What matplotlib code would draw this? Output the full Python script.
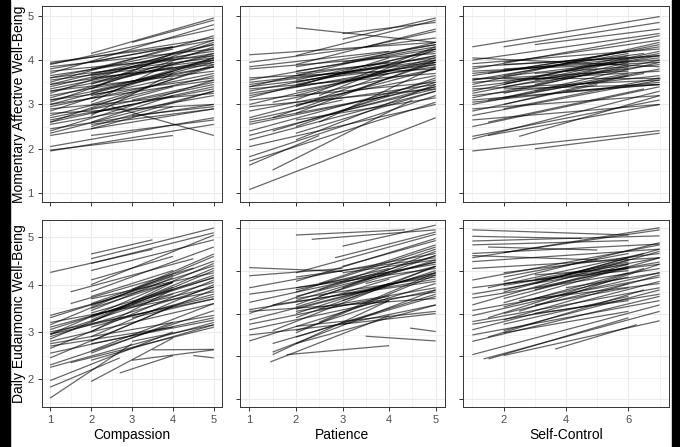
import matplotlib
matplotlib.use("Agg")
import matplotlib.pyplot as plt
from matplotlib.patches import Rectangle
from matplotlib.ticker import MultipleLocator

plt.rcParams['font.family'] = ['Liberation Sans', 'DejaVu Sans']

# person-specific lines: (x_start, x_end, y_start, y_end)
comp_mom = [
    (1, 5, 1.95, 2.55), (1, 4, 1.97, 2.30), (1, 5, 2.05, 2.70), (2, 5, 2.30, 2.65),
    (2.5, 5, 2.95, 2.30), (1, 5, 2.35, 3.30), (1, 5, 2.40, 3.55), (1, 5, 2.55, 3.20),
    (1, 5, 2.60, 3.90), (1, 5, 2.70, 3.45), (1, 5, 2.80, 3.00), (1, 5, 2.85, 4.05),
    (1, 5, 2.95, 3.70), (1, 5, 3.00, 3.95), (1, 5, 3.05, 4.30), (1, 5, 3.10, 3.60),
    (1, 5, 3.15, 4.15), (1, 5, 3.20, 3.85), (1, 5, 3.25, 4.45), (1, 5, 3.30, 3.75),
    (1, 5, 3.35, 4.10), (1, 5, 3.40, 4.25), (1, 5, 3.45, 3.95), (1, 5, 3.50, 4.55),
    (1, 5, 3.55, 4.00), (1, 5, 3.60, 4.35), (1, 5, 3.65, 4.20), (1, 5, 3.70, 4.80),
    (1, 5, 3.75, 4.10), (1, 5, 3.80, 4.45), (1, 5, 3.85, 4.25), (1, 5, 3.92, 4.50),
    (1, 4, 3.95, 4.30), (2, 5, 4.15, 4.95), (3, 5, 4.40, 4.90), (2, 5, 2.50, 3.30),
    (2, 5, 2.55, 2.90), (2, 4, 2.60, 3.20), (2, 4, 2.75, 3.70), (2, 4, 2.90, 3.40),
    (2, 4, 3.05, 3.95), (2, 4, 3.20, 3.60), (2, 4, 3.35, 4.15), (2, 4, 3.50, 3.85),
    (2, 4, 3.65, 4.05), (2, 4, 3.80, 4.25), (2, 4, 3.95, 4.30), (2, 5, 3.00, 3.85),
    (2, 5, 3.25, 4.05), (2, 5, 3.45, 4.40), (2, 5, 3.70, 4.15), (3, 5, 2.75, 2.95),
    (3, 5, 3.10, 3.50), (3, 5, 3.50, 4.00), (1, 5, 2.30, 2.90), (1, 5, 2.45, 3.00),
    (1, 5, 2.65, 3.35), (1, 3, 2.60, 3.00), (1, 5, 2.90, 3.25), (1, 5, 3.90, 4.70),
    (2, 5, 2.80, 3.40), (2, 5, 3.60, 3.90), (2, 4, 2.45, 2.95), (1, 5, 3.30, 4.00),
    (1, 5, 3.00, 3.55), (1, 5, 3.45, 4.35), (1, 5, 3.10, 3.85), (2, 4, 3.30, 3.75),
    (1, 5, 2.75, 3.65), (1, 5, 3.60, 4.05),
]
pat_mom = [
    (1, 5, 1.08, 2.70), (1, 2.5, 1.63, 2.30), (1, 5, 1.72, 3.05), (1, 5, 1.82, 3.20),
    (1.5, 4.5, 1.52, 3.10), (1, 5, 2.05, 3.00), (1, 5, 2.30, 3.40), (1, 5, 2.40, 3.55),
    (1, 4, 2.55, 3.20), (1, 5, 2.70, 3.80), (1, 5, 2.85, 3.65), (1, 5, 3.00, 4.00),
    (1, 5, 3.10, 3.50), (1, 5, 3.15, 4.25), (1, 5, 3.25, 3.85), (1, 5, 3.30, 4.10),
    (1, 5, 3.35, 3.70), (1, 5, 3.40, 4.40), (1, 5, 3.45, 4.00), (1, 5, 3.50, 3.95),
    (1, 5, 3.55, 4.30), (1, 5, 3.60, 3.80), (1, 5, 3.80, 4.15), (1, 5, 3.95, 4.50),
    (1, 5, 4.12, 4.40), (2, 5, 4.73, 4.40), (3, 5, 4.47, 4.95), (2, 5, 4.10, 4.90),
    (2, 5, 3.90, 4.70), (2, 5, 3.10, 4.30), (2, 5, 2.80, 4.00), (2, 5, 2.50, 3.60),
    (2, 5, 2.35, 3.30), (2, 5, 2.20, 3.45), (2, 5, 3.30, 3.90), (2, 5, 3.55, 4.20),
    (2, 5, 3.70, 4.05), (2, 5, 3.00, 3.45), (2, 5, 2.65, 3.15), (2, 5, 3.85, 4.35),
    (2, 4, 2.95, 3.70), (2, 4, 3.20, 3.75), (2, 4, 3.40, 4.05), (2, 4, 3.65, 3.95),
    (1.5, 5, 2.40, 3.50), (1.5, 5, 2.70, 3.95), (1.5, 5, 3.05, 3.80), (2.5, 5, 2.60, 3.85),
    (2.5, 5, 3.20, 4.25), (3, 5, 2.85, 3.35), (3, 5, 3.50, 4.05), (3, 5, 3.95, 4.35),
    (1, 3, 2.65, 3.10), (1, 4, 3.85, 4.20), (1, 5, 2.20, 3.30), (1, 5, 2.60, 3.40),
    (1, 5, 2.95, 3.35), (1, 5, 3.20, 3.95), (3, 5, 4.60, 4.85), (3.5, 5, 4.30, 4.65),
    (2, 5, 3.45, 4.10), (2, 5, 3.75, 4.25), (1, 5, 3.40, 3.90), (2, 4, 3.50, 3.90),
]
self_mom = [
    (1, 7, 1.95, 2.41), (3, 7, 2.00, 2.35), (1, 7, 2.22, 3.30), (1, 7, 2.28, 3.10),
    (1.5, 7, 2.30, 3.00), (2.5, 7, 2.28, 3.20), (1, 7, 2.50, 3.40), (1, 7, 2.75, 3.55),
    (1, 7, 2.90, 3.20), (1, 7, 3.00, 3.80), (1, 7, 3.10, 3.45), (1, 7, 3.15, 4.00),
    (1, 7, 3.20, 3.65), (1, 7, 3.30, 4.20), (1, 7, 3.35, 3.55), (1, 7, 3.40, 3.90),
    (1, 7, 3.45, 4.40), (1, 7, 3.50, 3.75), (1, 7, 3.55, 4.05), (1, 7, 3.60, 3.60),
    (1, 7, 3.65, 4.30), (1, 7, 3.75, 3.95), (1, 7, 3.80, 4.55), (1, 7, 3.85, 4.10),
    (1, 7, 3.92, 4.25), (1, 7, 4.00, 4.60), (1, 7, 4.05, 3.85), (1, 7, 4.30, 4.98),
    (2, 7, 4.30, 4.85), (3, 7, 4.35, 4.70), (2, 6, 3.00, 3.65), (2, 6, 3.25, 3.90),
    (2, 6, 3.45, 4.10), (2, 6, 3.60, 3.75), (2, 6, 3.75, 4.20), (2, 6, 3.90, 4.05),
    (3, 6, 3.30, 3.70), (3, 6, 3.55, 4.00), (3, 6, 3.70, 3.85), (2, 7, 2.90, 3.60),
    (2, 7, 3.15, 3.95), (2, 7, 3.35, 3.45), (2, 7, 3.65, 4.35), (2, 7, 3.80, 4.00),
    (2, 7, 3.95, 4.45), (1.5, 6.5, 2.60, 3.35), (1.5, 6.5, 3.10, 3.70), (1.5, 6.5, 3.70, 4.15),
    (1, 5, 2.85, 3.45), (1, 5, 3.25, 3.80), (1, 6, 3.55, 4.15), (4, 7, 3.30, 3.45),
    (4, 7, 3.75, 4.10), (1, 7, 2.65, 3.00), (1, 7, 3.05, 3.50), (2, 6, 3.40, 3.80),
    (1, 7, 3.70, 4.10), (2, 7, 3.50, 4.15), (3, 6, 3.45, 3.95),
]
comp_day = [
    (1, 3, 1.60, 2.75), (1, 2.7, 1.83, 2.45), (1, 4, 1.97, 3.00), (2, 4, 1.95, 2.87),
    (2.7, 4, 2.13, 2.50), (1, 3.5, 4.26, 4.75), (2, 3.5, 4.65, 4.95), (2, 5, 4.55, 5.20),
    (2, 5, 4.45, 5.10), (2, 5, 4.30, 4.95), (2, 4, 4.10, 4.60), (3.5, 5, 2.62, 2.63),
    (4.5, 5, 2.50, 2.45), (3, 5, 2.40, 2.62), (1, 5, 2.25, 3.20), (1, 5, 2.30, 3.45),
    (1, 5, 2.45, 3.90), (1, 5, 2.55, 3.30), (1, 5, 2.65, 4.10), (1, 5, 2.80, 3.60),
    (1, 5, 2.85, 4.30), (1, 5, 2.90, 3.95), (1, 5, 2.95, 4.45), (1, 5, 3.00, 3.70),
    (1, 5, 3.05, 4.15), (1, 5, 3.15, 4.60), (1, 5, 3.20, 3.85), (1, 5, 3.30, 4.40),
    (1, 4, 3.35, 4.05), (1, 4, 2.70, 3.10), (1, 4, 2.95, 3.80), (2, 5, 2.40, 3.15),
    (2, 5, 2.60, 3.60), (2, 5, 2.75, 3.25), (2, 5, 2.90, 4.00), (2, 5, 3.10, 3.80),
    (2, 5, 3.25, 4.35), (2, 5, 3.40, 4.15), (2, 5, 3.55, 4.50), (2, 5, 3.70, 4.25),
    (2, 5, 3.85, 4.80), (2, 5, 4.00, 5.05), (2, 4, 2.55, 3.20), (2, 4, 2.80, 3.55),
    (2, 4, 3.00, 3.90), (2, 4, 3.20, 4.05), (2, 4, 3.45, 4.15), (2, 4, 3.60, 4.20),
    (2, 4, 3.75, 4.30), (3, 5, 2.80, 3.15), (3, 5, 3.30, 3.70), (3, 5, 3.60, 4.20),
    (3, 5, 3.90, 4.65), (1.5, 5, 2.35, 3.10), (1.5, 4.5, 3.60, 4.35), (1.5, 4.5, 3.85, 4.55),
    (1, 5, 2.75, 3.35), (1, 5, 3.10, 4.05), (2, 4, 3.30, 3.95), (2, 4, 3.50, 4.05),
    (2, 5, 3.35, 3.95), (1, 5, 2.95, 3.75),
]
pat_day = [
    (1.45, 4, 1.87, 2.95), (1.5, 4, 2.04, 3.30), (1.8, 4, 2.04, 2.25), (1.5, 5, 2.10, 3.55),
    (1.5, 5, 2.30, 3.40), (1, 5, 2.36, 3.70), (1, 5, 2.62, 3.55), (1, 5, 2.85, 3.95),
    (1, 5, 3.09, 3.80), (1, 5, 3.26, 4.20), (1, 3, 4.07, 3.98), (1, 3, 3.88, 4.05),
    (1, 5, 3.45, 4.05), (1, 5, 3.60, 4.40), (1, 5, 3.05, 3.35), (1, 4, 2.75, 3.40),
    (2, 4.34, 4.83, 4.95), (2.34, 5, 4.73, 4.95), (3, 5, 4.57, 5.06), (2.84, 5, 4.30, 4.90),
    (4.45, 5, 2.66, 2.58), (3.5, 5, 2.47, 2.36), (2, 5, 2.30, 3.20), (2, 5, 2.55, 3.90),
    (2, 5, 2.70, 3.05), (2, 5, 2.90, 4.10), (2, 5, 3.05, 3.60), (2, 5, 3.20, 4.35),
    (2, 5, 3.35, 3.85), (2, 5, 3.50, 4.55), (2, 5, 3.60, 4.15), (2, 5, 3.75, 4.75),
    (2, 5, 3.85, 4.30), (2, 5, 3.95, 4.85), (2, 4, 2.60, 3.30), (2, 4, 3.00, 3.70),
    (2, 4, 3.30, 3.95), (2, 4, 3.55, 4.05), (2.5, 5, 2.80, 3.95), (2.5, 5, 3.10, 3.50),
    (2.5, 5, 3.40, 4.25), (2.5, 5, 3.70, 4.60), (3, 5, 2.75, 3.20), (3, 5, 3.30, 4.00),
    (3, 5, 3.60, 4.45), (3, 5, 3.95, 4.25), (3, 5, 4.10, 4.70), (1, 5, 3.00, 4.50),
    (1, 5, 2.50, 3.00), (1.5, 5, 2.60, 4.10), (1.5, 5, 3.20, 3.75), (2, 5, 2.45, 3.45),
    (2, 5, 3.10, 3.95), (3.5, 5, 3.70, 4.10), (2, 5, 3.40, 4.20), (2.5, 5, 3.55, 4.35),
    (3, 5, 3.45, 3.90), (2, 4, 3.15, 3.80),
]
self_day = [
    (1, 6, 4.95, 4.83), (1, 7, 4.69, 4.81), (1, 6, 4.60, 4.70), (1, 7, 4.40, 4.62),
    (2, 7, 4.42, 4.95), (1, 7, 4.30, 5.00), (1, 7, 4.21, 4.50), (1, 5, 4.35, 4.25),
    (1, 7, 4.05, 4.30), (1, 7, 3.78, 4.60), (1, 7, 3.60, 4.15), (1, 7, 3.36, 4.05),
    (1, 7, 3.20, 4.45), (1, 7, 3.07, 3.85), (1, 7, 2.81, 3.60), (1, 7, 2.62, 3.75),
    (1, 7, 2.35, 3.40), (1, 7, 2.04, 3.20), (1.36, 7, 1.94, 3.05), (1.52, 6, 1.94, 2.90),
    (2, 7, 2.02, 2.83), (3.65, 6.27, 2.17, 2.74), (1, 7, 2.50, 3.30), (1, 7, 2.75, 3.45),
    (1, 7, 2.95, 3.95), (1, 7, 3.45, 4.20), (2, 6, 3.00, 3.70), (2, 6, 3.15, 3.95),
    (2, 6, 3.35, 4.10), (2, 6, 3.55, 4.25), (2, 6, 3.70, 4.00), (2, 6, 3.85, 4.40),
    (2, 6, 2.75, 3.40), (2, 6, 2.55, 3.05), (3, 6, 3.35, 3.85), (3, 6, 3.55, 4.15),
    (3, 6, 3.70, 4.30), (3, 6, 3.90, 4.05), (3, 6, 3.20, 3.60), (3, 6, 3.00, 3.30),
    (2, 7, 2.60, 3.55), (2, 7, 2.85, 3.90), (2, 7, 3.25, 4.30), (2, 7, 3.50, 4.50),
    (2, 7, 3.75, 4.65), (2, 7, 3.95, 4.40), (2.5, 7, 3.05, 4.15), (2.5, 7, 3.30, 3.70),
    (1.5, 6.5, 2.45, 3.55), (1.5, 6.5, 2.90, 4.05), (1.5, 6.5, 3.60, 4.40), (4, 7, 3.60, 3.95),
    (4, 7, 3.90, 4.30), (1, 4.5, 4.80, 4.75), (1.5, 5, 4.55, 4.48), (3, 6, 3.80, 4.20),
    (3, 6, 3.60, 4.05), (2, 6, 3.65, 4.15),
]

x_names = ["Compassion", "Patience", "Self-Control"]
y_names = ["Momentary Affective Well-Being", "Daily Eudaimonic Well-Being"]
x_ticks = [[1, 2, 3, 4, 5], [1, 2, 3, 4, 5], [2, 4, 6]]
panels = [[comp_mom, pat_mom, self_mom], [comp_day, pat_day, self_day]]

W, H = 680, 447
fig = plt.figure(figsize=(W / 100, H / 100), dpi=100)

cols_px = [(42, 222), (240, 445), (463, 669)]
rows_px = [(6, 202), (220, 407)]
xlims = [(0.8, 5.2), (0.8, 5.2), (0.7, 7.3)]
ylims = [[(0.8, 5.22), (0.8, 5.22), (0.8, 5.22)],
         [(1.41, 5.37), (0.82, 5.18), (0.82, 5.18)]]
y_ticks = [[1, 2, 3, 4, 5], [2, 3, 4, 5], [1, 2, 3, 4, 5]]

for r in range(2):
    for c in range(3):
        x0, x1 = cols_px[c]
        y0, y1 = rows_px[r]
        ax = fig.add_axes([x0 / W, (H - y1) / H, (x1 - x0) / W, (y1 - y0) / H])
        for xs, xe, ys, ye in panels[r][c]:
            ax.plot([xs, xe], [ys, ye], color="black", alpha=0.6, lw=0.9,
                    solid_capstyle="butt")
        ax.set_xlim(*xlims[c])
        ax.set_ylim(*ylims[r][c])
        ax.set_xticks(x_ticks[c])
        yt = y_ticks[1] if (r == 1 and c == 0) else y_ticks[0]
        ax.set_yticks(yt)
        ax.xaxis.set_minor_locator(MultipleLocator(1.0 if c == 2 else 0.5))
        ax.yaxis.set_minor_locator(MultipleLocator(0.5))
        ax.grid(which="major", color="#EBEBEB", lw=0.8)
        ax.grid(which="minor", color="#EBEBEB", lw=0.4)
        ax.set_axisbelow(True)
        ax.tick_params(which="major", length=3, width=0.7, color="#333333",
                       labelsize=8, labelcolor="#4D4D4D", pad=3)
        ax.tick_params(which="minor", length=0)
        for s in ax.spines.values():
            s.set_color("#333333")
            s.set_linewidth(0.7)
        if r == 0:
            ax.set_xticklabels([])
        else:
            ax.set_xlabel(x_names[c], fontsize=10, labelpad=2)
        if c > 0:
            ax.set_yticklabels([])
        else:
            ycen = (H - (y0 + y1) / 2) / H
            fig.text(19.5 / W, ycen, y_names[r], rotation=90, fontsize=10,
                     ha="center", va="center")

# black strips at the image edges
fig.patches.append(Rectangle((0, 0), 10 / W, 1, transform=fig.transFigure,
                             color="black", zorder=10))
fig.patches.append(Rectangle((672 / W, 0), 8 / W, 1, transform=fig.transFigure,
                             color="black", zorder=10))

fig.savefig("out.png", dpi=100)
